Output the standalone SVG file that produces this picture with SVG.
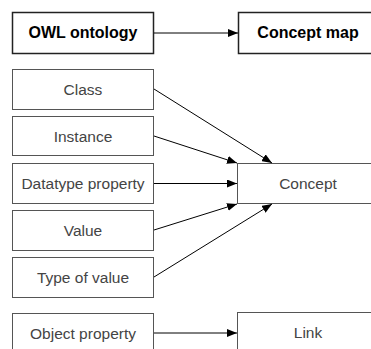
<svg xmlns="http://www.w3.org/2000/svg" width="371" height="349" viewBox="0 0 371 349">
<defs>
<marker id="ah" viewBox="0 0 10 8" refX="10" refY="4" markerWidth="10" markerHeight="8" markerUnits="userSpaceOnUse" orient="auto">
<path d="M0,0 L10,4 L0,8 Z" fill="#000"/>
</marker>
<style>
.hdr rect{fill:#fff;stroke:#222;stroke-width:1.5}
.hdr text{font-family:"Liberation Sans",Arial,sans-serif;font-size:16px;font-weight:bold;fill:#000;text-anchor:middle}
.n rect{fill:#fff;stroke:#555;stroke-width:1}
.n text{font-family:"Liberation Sans",Arial,sans-serif;font-size:15.5px;fill:#444;text-anchor:middle}
.c line{stroke:#000;stroke-width:1;marker-end:url(#ah)}
</style>
</defs>
<rect width="371" height="349" fill="#fff"/>
<g id="owl" class="hdr"><rect x="12.5" y="12.5" width="141" height="41"/><text x="83" y="38">OWL ontology</text></g>
<g id="cmap" class="hdr"><rect x="238.5" y="12.5" width="140" height="41"/><text x="308" y="38">Concept map</text></g>
<g id="class" class="n"><rect x="12.5" y="69.5" width="141" height="40"/><text x="83" y="95">Class</text></g>
<g id="instance" class="n"><rect x="12.5" y="116.5" width="141" height="39"/><text x="83" y="142">Instance</text></g>
<g id="datatype" class="n"><rect x="12.5" y="163.5" width="141" height="40"/><text x="83" y="189">Datatype property</text></g>
<g id="value" class="n"><rect x="12.5" y="210.5" width="141" height="40"/><text x="83" y="236">Value</text></g>
<g id="typeofvalue" class="n"><rect x="12.5" y="257.5" width="141" height="40"/><text x="83" y="283">Type of value</text></g>
<g id="objprop" class="n"><rect x="12.5" y="313.5" width="141" height="40"/><text x="83" y="339">Object property</text></g>
<g id="concept" class="n"><rect x="237.5" y="163.5" width="141" height="40"/><text x="308" y="189">Concept</text></g>
<g id="link" class="n"><rect x="237.5" y="312.5" width="141" height="40"/><text x="308" y="338">Link</text></g>
<g id="connectors" class="c">
<line x1="154" y1="33" x2="238" y2="33"/>
<line x1="154" y1="89" x2="272" y2="163"/>
<line x1="154" y1="136" x2="237" y2="163"/>
<line x1="154" y1="183.5" x2="237" y2="183.5"/>
<line x1="154" y1="230" x2="237" y2="204"/>
<line x1="154" y1="277" x2="272" y2="204"/>
<line x1="154" y1="333" x2="237" y2="333"/>
</g>
</svg>
